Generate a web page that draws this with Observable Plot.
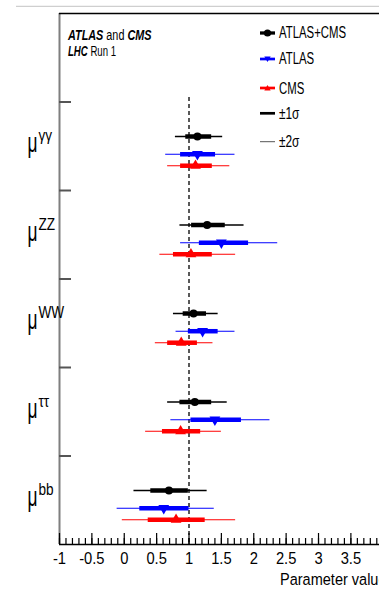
<!DOCTYPE html>
<html><head><meta charset="utf-8">
<script src="https://cdn.jsdelivr.net/npm/d3@7"></script>
<script src="https://cdn.jsdelivr.net/npm/@observablehq/plot@0.6"></script>
<style>
html,body{margin:0;padding:0;background:#fff;overflow:hidden;}
#wrap{position:relative;width:379px;height:589px;overflow:hidden;font-family:"Liberation Sans",Arial,sans-serif;}
#wrap svg{position:absolute;left:0;top:0;}
</style></head><body><div id="wrap"></div>
<script>
// ---- data ----
const categories = ["γγ", "ZZ", "WW", "ττ", "bb"];
const seriesNames = ["ATLAS+CMS", "ATLAS", "CMS"];
const seriesColors = ["#000000", "#0000ff", "#ff0000"];
// each row: [best fit, 1σ low, 1σ high, 2σ low, 2σ high]
const combined = [
  [1.13, 0.95, 1.35, 0.79, 1.52],
  [1.28, 1.04, 1.56, 0.86, 1.85],
  [1.07, 0.91, 1.27, 0.76, 1.45],
  [1.09, 0.86, 1.35, 0.67, 1.59],
  [0.69, 0.41, 0.99, 0.15, 1.28]
];
const atlas = [
  [1.13, 0.87, 1.41, 0.64, 1.71],
  [1.50, 1.16, 1.92, 0.87, 2.37],
  [1.21, 0.99, 1.45, 0.80, 1.71],
  [1.40, 1.03, 1.81, 0.72, 2.25],
  [0.61, 0.24, 1.00, -0.11, 1.39]
];
const cms = [
  [1.10, 0.87, 1.36, 0.67, 1.63],
  [1.03, 0.76, 1.36, 0.55, 1.72],
  [0.88, 0.67, 1.13, 0.48, 1.37],
  [0.87, 0.59, 1.18, 0.33, 1.50],
  [0.80, 0.37, 1.25, -0.03, 1.72]
];
const xTickValues = [-1, -0.5, 0, 0.5, 1, 1.5, 2, 2.5, 3, 3.5, 4];
const smValue = 1;
const xLabel = "Parameter value";
const sigmaLabels = ["±1σ", "±2σ"];

// ---- layout ----
const W = 386, H = 589, ML = 59, MT = 13, MB = 45;
const plotW = W - ML, plotH = H - MT - MB;
const offsets = [0.39, 0.59, 0.72];
const rows = [combined, atlas, cms].flatMap((arr, s) => arr.map((d, i) => ({
  cat: categories[i], s, y: i + 1 + offsets[s],
  v: d[0], lo1: d[1], hi1: d[2], lo2: d[3], hi2: d[4], color: seriesColors[s]
})));
const minorTicks = d3.range(-10, 41).map(i => i / 10);

const plot = Plot.plot({
  width: W, height: H,
  marginLeft: ML, marginRight: 0, marginTop: MT, marginBottom: MB,
  x: {domain: [-1, 4.05], axis: null},
  y: {domain: [0, 6], reverse: true, axis: null},
  color: {type: "identity"},
  style: {maxWidth: "none", background: "transparent", fontFamily: "Liberation Sans, Arial, sans-serif", fontSize: "15px", color: "#000"},
  marks: [
    Plot.ruleX([smValue], {x: d => d, y1: 0.95, y2: 6, stroke: "#000", strokeWidth: 1.3, strokeDasharray: "4,3"}),
    Plot.ruleY(rows, {y: "y", x1: "lo2", x2: "hi2", stroke: "color", strokeWidth: d => d.s === 0 ? 1.4 : 1.1}),
    Plot.ruleY(rows, {y: "y", x1: "lo1", x2: "hi1", stroke: "color", strokeWidth: 4.5}),
    Plot.dot(rows.filter(d => d.s === 0), {x: "v", y: "y", r: 4, fill: seriesColors[0], symbol: "circle"}),
    Plot.dot(rows.filter(d => d.s === 1), {x: "v", y: "y", r: 4, fill: seriesColors[1], symbol: "triangle", rotate: 180}),
    Plot.dot(rows.filter(d => d.s === 2), {x: "v", y: "y", r: 4, fill: seriesColors[2], symbol: "triangle"}),
    // frame pieces
    Plot.ruleX([-1], {x: d => d, stroke: "#7f7f7f", strokeWidth: 2}),
    Plot.ruleY([0], {y: d => d, stroke: "#000", strokeWidth: 1.3}),
    Plot.ruleY([6], {y: d => d, stroke: "#000", strokeWidth: 1.3}),
    Plot.ruleY([1, 2, 3, 4, 5], {y: d => d, stroke: "#555", strokeWidth: 2, insetRight: plotW - 12}),
    Plot.ruleX(minorTicks, {x: d => d, stroke: "#000", strokeWidth: 1.2, insetTop: plotH - 6}),
    Plot.ruleX(xTickValues, {x: d => d, stroke: "#000", strokeWidth: 1.2, insetTop: plotH - 11}),
    Plot.text(xTickValues, {x: d => d, text: d => String(d), frameAnchor: "bottom", lineAnchor: "bottom", dy: 19, fontSize: 16, fill: "#000"}),
    Plot.text([xLabel], {text: d => d, frameAnchor: "bottom-right", textAnchor: "end", lineAnchor: "bottom", dy: 40, fontSize: 16.5, fill: "#000"}),
    Plot.text(categories, {y: (d, i) => i + 1.5, text: () => "μ", frameAnchor: "left", textAnchor: "middle", lineAnchor: "bottom", dx: -27, dy: 6, fontSize: 28, fill: "#000"}),
    Plot.text(categories, {y: (d, i) => i + 1.5, text: d => d, frameAnchor: "left", textAnchor: "start", lineAnchor: "bottom", dx: -21, dy: -5, fontSize: 16, fill: "#000"})
  ]
});

// horizontal condensing of some labels (keeps their anchor point fixed)
const squeeze = (t, s) => {
  const tr = t.getAttribute("transform");
  if (tr) {
    t.setAttribute("transform", tr + ` scale(${s},1)`);
  } else {
    const x = +(t.getAttribute("x") || 0), y = +(t.getAttribute("y") || 0);
    t.setAttribute("transform", `translate(${x},${y}) scale(${s},1) translate(${-x},${-y})`);
  }
};
plot.querySelectorAll("text").forEach(t => {
  const s = t.textContent;
  if (s === "μ") squeeze(t, 0.62);
  else if (categories.includes(s)) squeeze(t, 0.85);
  else if (s === xLabel) squeeze(t, 0.88);
  else squeeze(t, 0.92);
});
const wrap = document.getElementById("wrap");
wrap.appendChild(plot);

// ---- header + legend overlay ----
const legendY = [33, 59, 88];
const legendBase = [38.3, 64.3, 94];
let leg = `<svg width="379" height="589" xmlns="http://www.w3.org/2000/svg" style="pointer-events:none" font-family="Liberation Sans, Arial, sans-serif">`;
leg += `<line x1="16" y1="6.3" x2="379" y2="6.3" stroke="#cfcfcf" stroke-width="1.3"/>`;
leg += `<g transform="translate(68,40) scale(0.7,1)" font-size="15.5"><text><tspan font-weight="bold" font-style="italic">ATLAS</tspan> and <tspan font-weight="bold" font-style="italic">CMS</tspan></text></g>`;
leg += `<g transform="translate(68,55.5) scale(0.62,1)" font-size="15.5"><text><tspan font-weight="bold" font-style="italic">LHC</tspan> Run 1</text></g>`;
seriesNames.forEach((name, s) => {
  const y = legendY[s], c = seriesColors[s];
  leg += `<line x1="260" x2="275" y1="${y}" y2="${y}" stroke="${c}" stroke-width="${s === 0 ? 3.3 : 2.7}"/>`;
  if (s === 0) leg += `<circle cx="267.5" cy="${y}" r="3.6" fill="${c}"/>`;
  else if (s === 1) leg += `<path d="M264.3,${y - 2.6}L270.7,${y - 2.6}L267.5,${y + 3}Z" fill="${c}"/>`;
  else leg += `<path d="M264.3,${y + 2.6}L270.7,${y + 2.6}L267.5,${y - 3}Z" fill="${c}"/>`;
  leg += `<g transform="translate(279,${legendBase[s]}) scale(0.69,1)" font-size="16.5"><text>${name}</text></g>`;
});
leg += `<line x1="260" x2="275" y1="113.3" y2="113.3" stroke="#000" stroke-width="2.7"/>`;
leg += `<g transform="translate(279,119) scale(0.72,1)" font-size="16.5"><text>${sigmaLabels[0]}</text></g>`;
leg += `<line x1="260" x2="275" y1="141.7" y2="141.7" stroke="#555" stroke-width="1"/>`;
leg += `<g transform="translate(279,146.7) scale(0.72,1)" font-size="16.5"><text>${sigmaLabels[1]}</text></g>`;
leg += `</svg>`;
wrap.insertAdjacentHTML("beforeend", leg);
</script>
</body></html>
